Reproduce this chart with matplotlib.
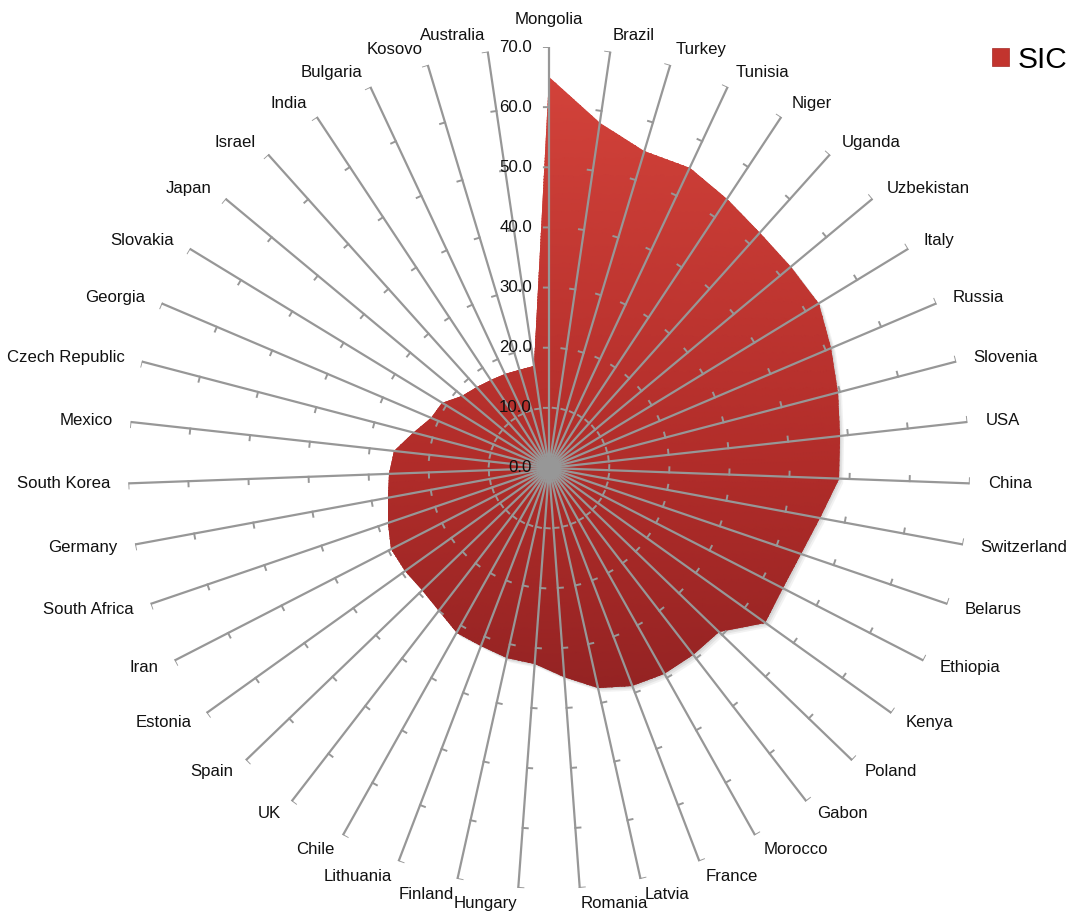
import numpy as np
import matplotlib
matplotlib.use('Agg')
import matplotlib.pyplot as plt
import matplotlib.transforms as mtransforms
from matplotlib.colors import LinearSegmentedColormap
from matplotlib.patches import Patch

countries = ['Mongolia', 'Brazil', 'Turkey', 'Tunisia', 'Niger', 'Uganda', 'Uzbekistan',
             'Italy', 'Russia', 'Slovenia', 'USA', 'China', 'Switzerland', 'Belarus',
             'Ethiopia', 'Kenya', 'Poland', 'Gabon', 'Morocco', 'France', 'Latvia',
             'Romania', 'Hungary', 'Finland', 'Lithuania', 'Chile', 'UK', 'Spain',
             'Estonia', 'Iran', 'South Africa', 'Germany', 'South Korea', 'Mexico',
             'Czech Republic', 'Georgia', 'Slovakia', 'Japan', 'Israel', 'India',
             'Bulgaria', 'Kosovo', 'Australia']
sic = [65.0, 58.0, 55.0, 55.1, 53.7, 52.5, 52.3, 52.5, 51.0, 49.6, 48.6, 48.2,
       45.8, 44.2, 43.8, 44.2, 39.2, 39.3, 39.2, 38.8, 37.4, 34.8, 32.6, 32.4,
       31.6, 31.4, 30.0, 29.3, 29.5, 29.6, 28.2, 27.2, 26.7, 26.0, 23.3, 21.4,
       20.8, 18.8, 18.0, 17.6, 17.2, 17.1, 17.2]
r_ticks = [0, 10, 20, 30, 40, 50, 60, 70]
r_tick_labels = ['0.0', '10.0', '20.0', '30.0', '40.0', '50.0', '60.0', '70.0']
series_name = 'SIC'

plt.rcParams['font.family'] = ['Liberation Sans', 'DejaVu Sans']

W, H = 1076, 913
fig = plt.figure(figsize=(W / 100, H / 100), dpi=100)
cx, cy, R = 549, 468, 421
ax = fig.add_axes([(cx - R) / W, (H - cy - R) / H, 2 * R / W, 2 * R / H], projection='polar')
ax.set_theta_zero_location('N')
ax.set_theta_direction(-1)
ax.set_ylim(0, 70)
ax.grid(False)
ax.set_xticks([])
ax.set_yticks([])
ax.spines['polar'].set_visible(False)
ax.patch.set_alpha(0)

n = len(countries)
theta = np.arange(n) * 2 * np.pi / n
th_c = np.append(theta, theta[0])
v_c = np.append(sic, sic[0])

# soft drop shadow
for d, a in [(1.5, 0.10), (3.0, 0.09), (4.5, 0.07)]:
    tr = ax.transData + mtransforms.ScaledTranslation(d / 100, -d / 100, fig.dpi_scale_trans)
    ax.fill(th_c, v_c, color='#505050', alpha=a, lw=0, transform=tr, zorder=1)

# vertical gradient fill clipped to the radar polygon
T, Rg = np.meshgrid(np.linspace(0, 2 * np.pi, 361), np.linspace(0, 70, 141))
Z = Rg * np.cos(T)
cmap = LinearSegmentedColormap.from_list('sicred', [(0.0, '#942323'), (0.36, '#B02C29'), (1.0, '#D2423A')])
mesh = ax.pcolormesh(T, Rg, Z, cmap=cmap, vmin=-37, vmax=65, shading='gouraud', zorder=2)
poly = ax.fill(th_c, v_c, facecolor='none', edgecolor='none', zorder=2)[0]
mesh.set_clip_path(poly)

# spokes
spoke_col = '#979797'
for th in theta:
    ax.plot([th, th], [0, 70], color=spoke_col, lw=1.6, zorder=3, solid_capstyle='butt')

# tick marks on each spoke (counter-clockwise side)
L = 0.85
tt, tr_ = [], []
for th in theta:
    for r in r_ticks[1:]:
        d = np.arctan2(L, r)
        tt += [th, th - d, np.nan]
        tr_ += [r, np.hypot(r, L), np.nan]
ax.plot(tt, tr_, color=spoke_col, lw=1.4, zorder=3)

ax.scatter([0], [0], s=260, color=spoke_col, zorder=4, lw=0)

# radial value labels
for r, lab in zip(r_ticks, r_tick_labels):
    ax.annotate(lab, xy=(0, r), xytext=(-12.3, 0), textcoords='offset points',
                ha='right', va='center', fontsize=12.2, color='#111111', zorder=5)

# category labels
px = 0.72
for th, name in zip(theta, countries):
    s, c = np.sin(th), np.cos(th)
    if abs(s) < 0.02:
        ha, va, off = 'center', 'bottom', (0, 20 * px)
    else:
        ha = 'left' if s > 0 else 'right'
        va = 'center'
        off = (18 * s * px, 16 * c * px)
    ax.annotate(name, xy=(th, 70), xytext=off, textcoords='offset points',
                ha=ha, va=va, fontsize=12.1, color='#111111', annotation_clip=False)

handle = Patch(facecolor='#C2342E', edgecolor='#A52925', lw=0.5, label=series_name)
fig.legend(handles=[handle], loc='center left', bbox_to_anchor=(991.5 / W, (H - 59.5) / H),
           bbox_transform=fig.transFigure, frameon=False, fontsize=21.5,
           handlelength=0.57, handleheight=0.57, handletextpad=0.3,
           borderpad=0, borderaxespad=0)

fig.savefig('out.png', dpi=100)
